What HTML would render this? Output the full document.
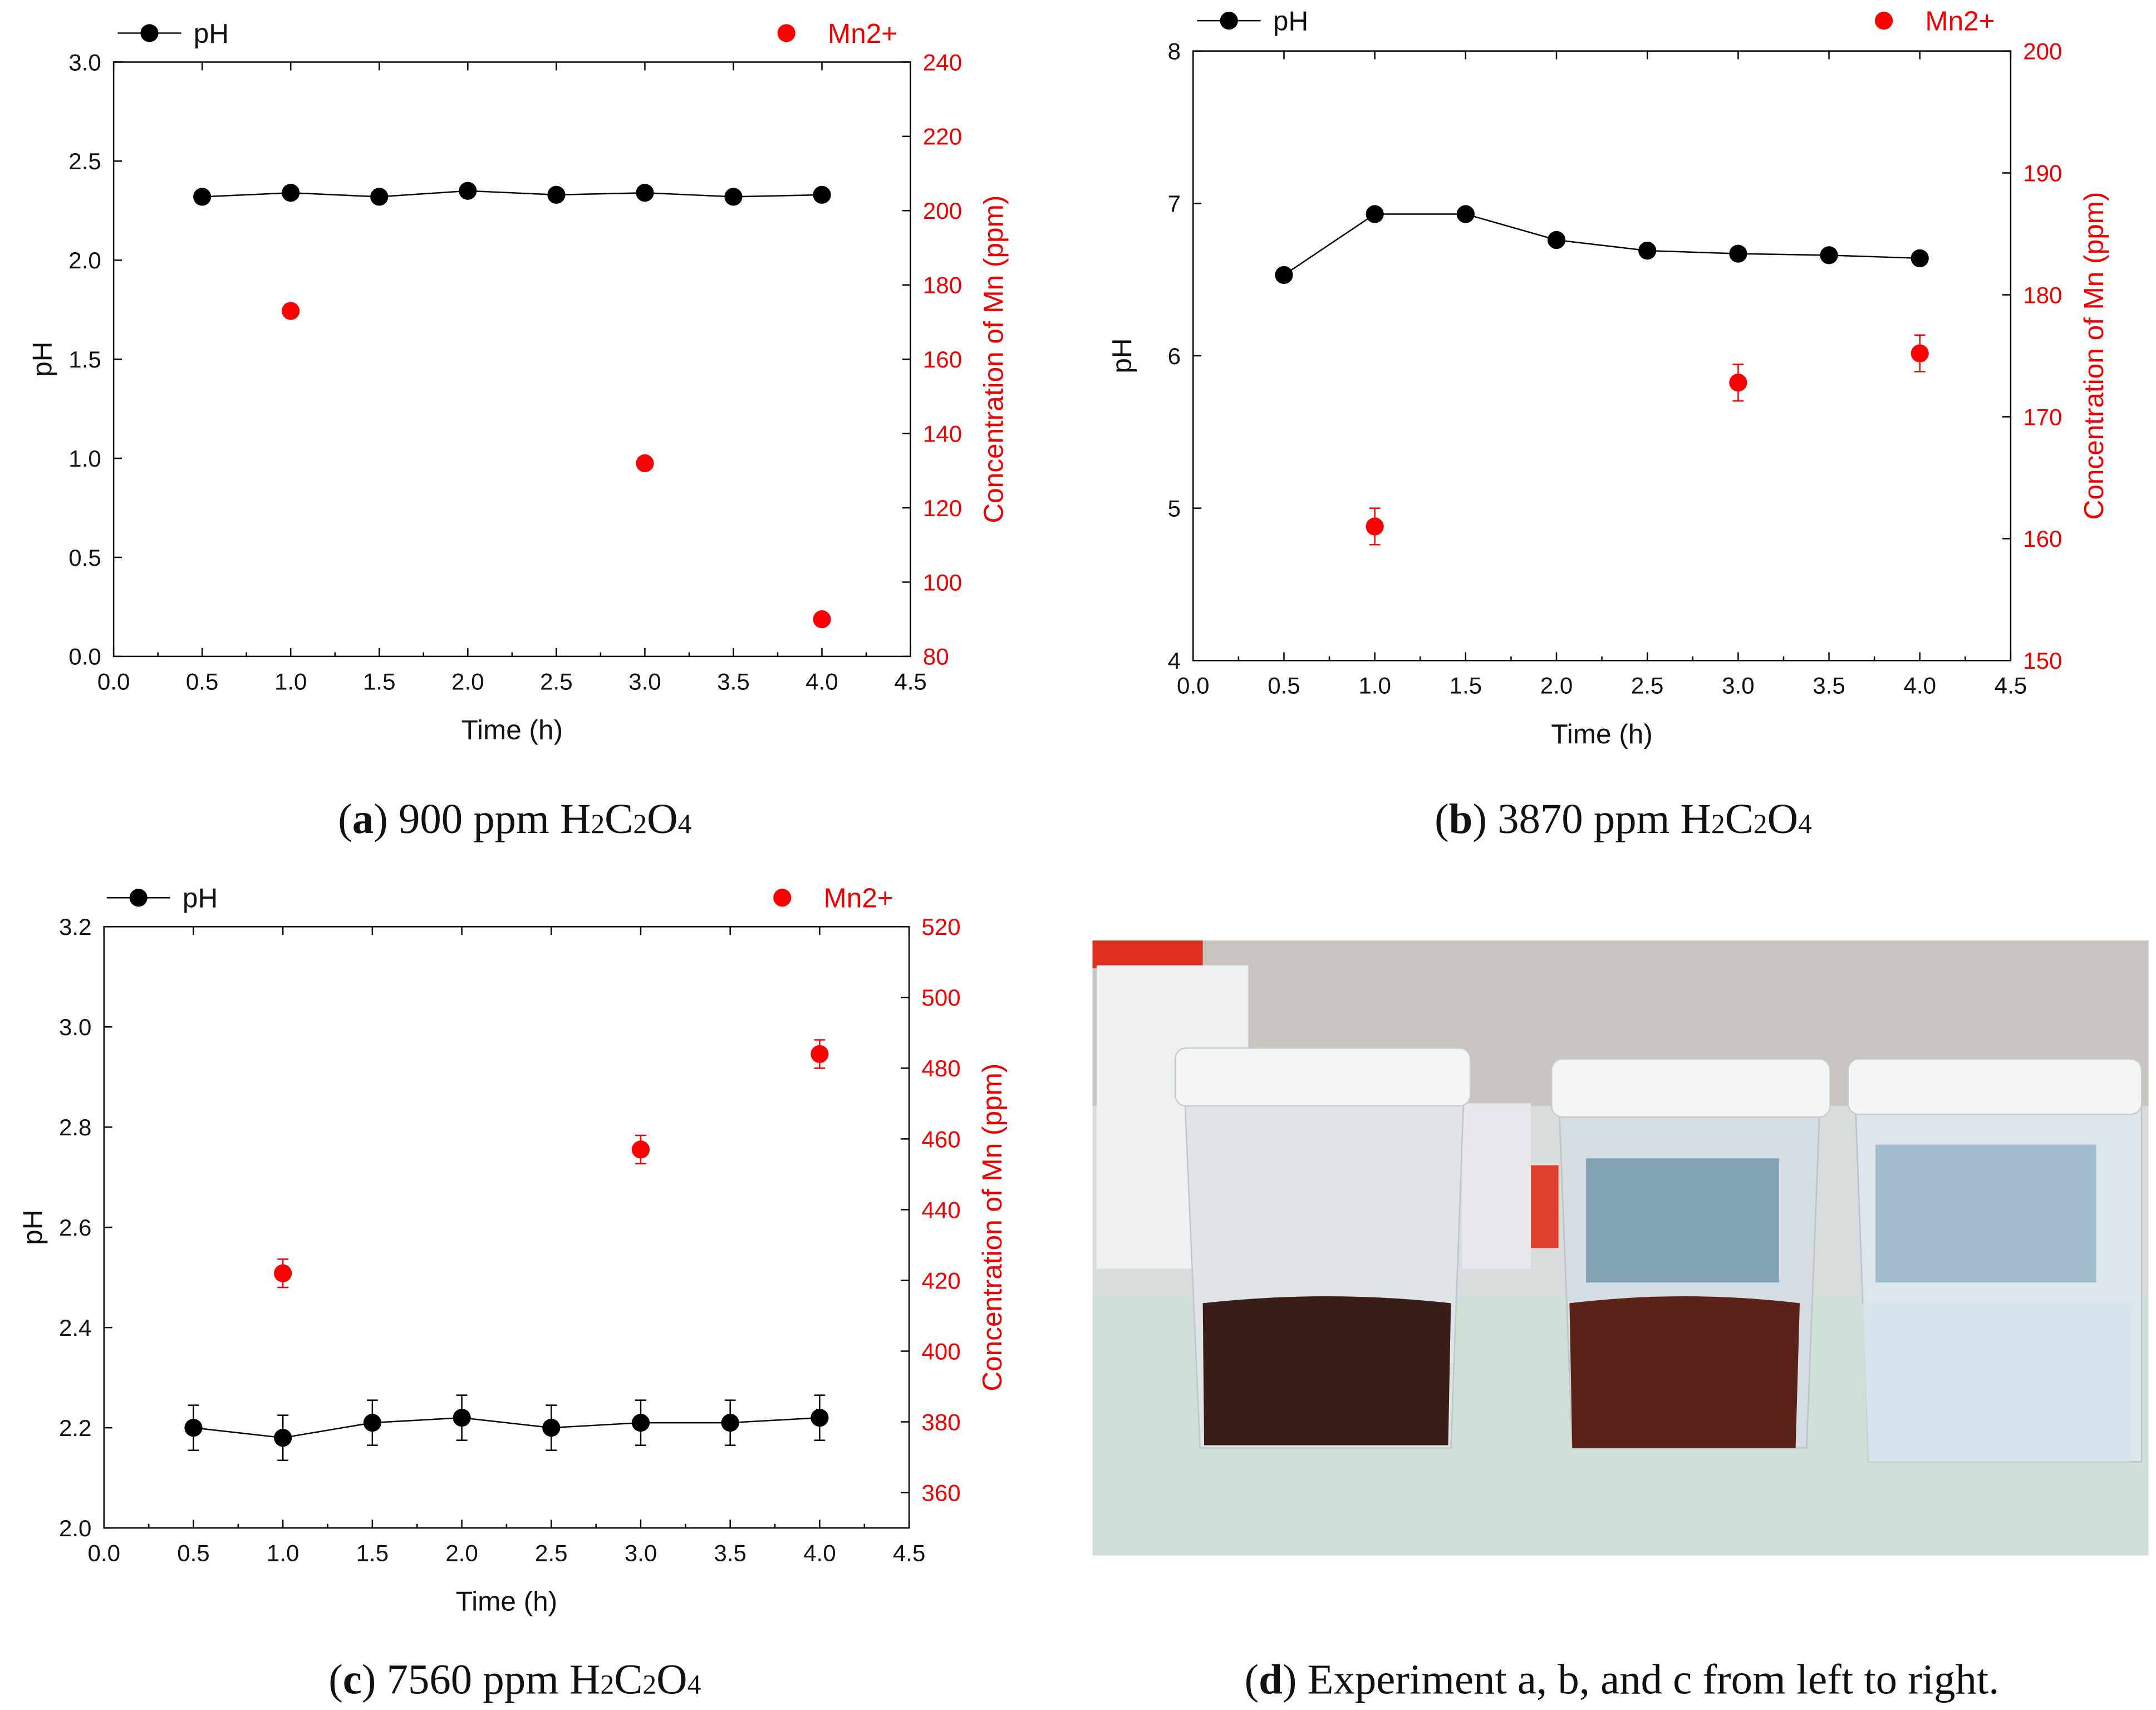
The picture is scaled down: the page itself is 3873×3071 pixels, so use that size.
<!DOCTYPE html>
<html><head><meta charset="utf-8"><style>
html,body{margin:0;padding:0;background:#fff}
svg{display:block}
</style></head><body>
<svg id="fig" width="3873" height="3071" viewBox="0 0 1563 1240" xmlns="http://www.w3.org/2000/svg" font-family="Liberation Sans, sans-serif">
<rect width="1563" height="1240" fill="#fff"/>
<g id="photo">
  <rect x="792" y="682" width="766" height="446" fill="#d9dcdc"/>
  <rect x="792" y="682" width="766" height="120" fill="#c9c4c0"/>
  <rect x="792" y="940" width="766" height="188" fill="#cfe0d8"/>
  <rect x="792" y="682" width="80" height="20" fill="#e03020"/>
  <rect x="795" y="700" width="110" height="220" fill="#eef0f2"/>
  <rect x="1060" y="800" width="50" height="120" fill="#e8e8ec"/>
  <rect x="1110" y="845" width="20" height="60" fill="#e04030"/>
  <path d="M858 775 L1062 775 L1052 1050 L870 1050 Z" fill="#dfe4e6" stroke="#bfc6c8"/>
  <rect x="852" y="760" width="214" height="42" rx="8" fill="#f4f6f6" stroke="#c8cccc"/>
  <path d="M872 945 Q962 935 1052 945 L1050 1048 L873 1048 Z" fill="#3a1c18"/>
  <path d="M1130 790 L1320 790 L1310 1050 L1140 1050 Z" fill="#d5dde2" stroke="#bcc3c6"/>
  <rect x="1125" y="768" width="202" height="42" rx="8" fill="#f4f6f6" stroke="#c8cccc"/>
  <rect x="1150" y="840" width="140" height="90" fill="#5c8aa0" opacity="0.7"/>
  <path d="M1138 945 Q1222 935 1305 945 L1302 1050 L1140 1050 Z" fill="#5a2218"/>
  <path d="M1345 790 L1553 790 L1553 1060 L1355 1060 Z" fill="#dde6ea" stroke="#bcc3c6"/>
  <rect x="1340" y="768" width="213" height="40" rx="8" fill="#f4f6f6" stroke="#c8cccc"/>
  <rect x="1360" y="830" width="160" height="100" fill="#7aa0b8" opacity="0.6"/>
  <path d="M1350 945 L1545 945 L1545 1060 L1355 1060 Z" fill="#d6e4ec" opacity="0.8"/>
</g>
<g id="captions" font-family="Liberation Serif, serif" font-size="31" fill="#111">
  <text x="373" y="604" text-anchor="middle">(<tspan font-weight="bold">a</tspan>) 900 ppm H<tspan font-size="20">2</tspan>C<tspan font-size="20">2</tspan>O<tspan font-size="20">4</tspan></text>
  <text x="1177" y="604" text-anchor="middle">(<tspan font-weight="bold">b</tspan>) 3870 ppm H<tspan font-size="20">2</tspan>C<tspan font-size="20">2</tspan>O<tspan font-size="20">4</tspan></text>
  <text x="373" y="1228" text-anchor="middle">(<tspan font-weight="bold">c</tspan>) 7560 ppm H<tspan font-size="20">2</tspan>C<tspan font-size="20">2</tspan>O<tspan font-size="20">4</tspan></text>
  <text x="1176" y="1228" text-anchor="middle">(<tspan font-weight="bold">d</tspan>) Experiment a, b, and c from left to right.</text>
</g>
</svg>
<script>
const times = [0.5,1.0,1.5,2.0,2.5,3.0,3.5,4.0];
const phA = [2.32,2.34,2.32,2.35,2.33,2.34,2.32,2.33];
const mnTimesA = [1,3,4];
const mnA = [173,132,90];
const phB = [6.53,6.93,6.93,6.76,6.69,6.67,6.66,6.64];
const mnTimesB = [1,3,4];
const mnB = [161,172.8,175.2];
const mnErrB = [1.5,1.5,1.5];
const phC = [2.20,2.18,2.21,2.22,2.20,2.21,2.21,2.22];
const phErrC = [0.045,0.045,0.045,0.045,0.045,0.045,0.045,0.045];
const mnTimesC = [1,3,4];
const mnC = [422,457,484];
const mnErrC = [4,4,4];
const xTicks = [0,0.5,1,1.5,2,2.5,3,3.5,4,4.5];
const phTicksA = [0,0.5,1,1.5,2,2.5,3];
const mnTicksA = [80,100,120,140,160,180,200,220,240];
const phTicksB = [4,5,6,7,8];
const mnTicksB = [150,160,170,180,190,200];
const phTicksC = [2.0,2.2,2.4,2.6,2.8,3.0,3.2];
const mnTicksC = [360,380,400,420,440,460,480,500,520];

const NS="http://www.w3.org/2000/svg";
const svg=document.getElementById('fig');
function mk(tag,attrs,parent){const e=document.createElementNS(NS,tag);for(const k in attrs)e.setAttribute(k,attrs[k]);(parent||svg).appendChild(e);return e;}
function txt(s,attrs,parent){const e=mk('text',attrs,parent);e.textContent=s;return e;}

function chart(o){
  const g=mk('g',{});
  
  
  const X=v=>o.x0+(v-0)/(4.5)*(o.x1-o.x0);
  const Y=v=>o.y1-(v-o.pmin)/(o.pmax-o.pmin)*(o.y1-o.y0);
  const R=v=>o.y1-(v-o.rmin)/(o.rmax-o.rmin)*(o.y1-o.y0);
  const box=mk('rect',{x:o.x0,y:o.y0,width:o.x1-o.x0,height:o.y1-o.y0,fill:'none',stroke:'#000','stroke-width':1},g);
  
  
  xTicks.forEach((t,i)=>{
    mk('line',{x1:X(t),x2:X(t),y1:o.y1,y2:o.y1-6,stroke:'#000'},g);
    mk('line',{x1:X(t),x2:X(t),y1:o.y0,y2:o.y0+6,stroke:'#000'},g);
    if(i<xTicks.length-1){mk('line',{x1:X(t+0.25),x2:X(t+0.25),y1:o.y1,y2:o.y1-3,stroke:'#000'},g);}
    const l=txt(t.toFixed(1),{x:X(t),y:o.y1+24,'text-anchor':'middle','font-size':17,fill:'#111'},g);
    
    
  });
  o.pt.forEach(t=>{
    mk('line',{x1:o.x0,x2:o.x0+6,y1:Y(t),y2:Y(t),stroke:'#000'},g);
    const l=txt(t.toFixed(o.pdec),{x:o.x0-9,y:Y(t)+6,'text-anchor':'end','font-size':17,fill:'#111'},g);
    
    
  });
  o.rt.forEach(t=>{
    mk('line',{x1:o.x1,x2:o.x1-6,y1:R(t),y2:R(t),stroke:'#000'},g);
    const l=txt(String(t),{x:o.x1+9,y:R(t)+6,'font-size':17,fill:'#e00'},g);
    
    
  });
  const xt=txt('Time (h)',{x:(o.x0+o.x1)/2,y:o.y1+60,'text-anchor':'middle','font-size':20,fill:'#111'},g);
  
  
  const yt=txt('pH',{x:0,y:0,transform:`translate(${o.x0-45},${(o.y0+o.y1)/2}) rotate(-90)`,'text-anchor':'middle','font-size':20,fill:'#111'},g);
  
  
  const rt=txt('Concentration of Mn (ppm)',{x:0,y:0,transform:`translate(${o.x1+67},${(o.y0+o.y1)/2}) rotate(-90)`,'text-anchor':'middle','font-size':20,fill:'#e00'},g);
  
  
  const pts=times.map((t,i)=>X(t)+','+Y(o.ph[i])).join(' ');
  const pl=mk('polyline',{points:pts,fill:'none',stroke:'#000','stroke-width':1},g);
  
  
  times.forEach((t,i)=>{
    const e=o.phErr?o.phErr[i]:0.02*(o.pmax-o.pmin)/3;
    mk('line',{x1:X(t),x2:X(t),y1:Y(o.ph[i]-e),y2:Y(o.ph[i]+e),stroke:'#000'},g);
    mk('line',{x1:X(t)-4,x2:X(t)+4,y1:Y(o.ph[i]-e),y2:Y(o.ph[i]-e),stroke:'#000'},g);
    mk('line',{x1:X(t)-4,x2:X(t)+4,y1:Y(o.ph[i]+e),y2:Y(o.ph[i]+e),stroke:'#000'},g);
    const c=mk('circle',{cx:X(t),cy:Y(o.ph[i]),r:6.5,fill:'#000'},g);
    
    
  });
  o.mt.forEach((t,i)=>{
    if(o.mErr){const e=o.mErr[i];
      mk('line',{x1:X(t),x2:X(t),y1:R(o.mn[i]-e),y2:R(o.mn[i]+e),stroke:'#e00'},g);
      mk('line',{x1:X(t)-4,x2:X(t)+4,y1:R(o.mn[i]-e),y2:R(o.mn[i]-e),stroke:'#e00'},g);
      mk('line',{x1:X(t)-4,x2:X(t)+4,y1:R(o.mn[i]+e),y2:R(o.mn[i]+e),stroke:'#e00'},g);}
    const c=mk('circle',{cx:X(t),cy:R(o.mn[i]),r:6.5,fill:'#f00'},g);
    
    
  });
  const lg=mk('g',{},g);
  
  
  mk('line',{x1:o.lx,x2:o.lx+46,y1:o.ly,y2:o.ly,stroke:'#000'},lg);
  mk('circle',{cx:o.lx+23,cy:o.ly,r:6.5,fill:'#000'},lg);
  txt('pH',{x:o.lx+55,y:o.ly+7,'font-size':20,fill:'#111'},lg);
  mk('circle',{cx:o.mx,cy:o.ly,r:6.5,fill:'#f00'},lg);
  txt('Mn2+',{x:o.mx+30,y:o.ly+7,'font-size':20,fill:'#e00'},lg);
}
chart({name:'chart-a',x0:82,x1:660,y0:45,y1:476,pmin:0,pmax:3,rmin:80,rmax:240,pt:phTicksA,pdec:1,rt:mnTicksA,ph:phA,mt:mnTimesA,mn:mnA,lx:85,ly:24,mx:570});
chart({name:'chart-b',x0:865,x1:1458,y0:37,y1:479,pmin:4,pmax:8,rmin:150,rmax:200,pt:phTicksB,pdec:0,rt:mnTicksB,ph:phB,mt:mnTimesB,mn:mnB,mErr:mnErrB,lx:868,ly:15,mx:1366});
chart({name:'chart-c',x0:75,x1:659,y0:672,y1:1108,pmin:2.0,pmax:3.2,rmin:350,rmax:520,pt:phTicksC,pdec:1,rt:mnTicksC,ph:phC,phErr:phErrC,mt:mnTimesC,mn:mnC,mErr:mnErrC,lx:77,ly:651,mx:567});
</script>
</body></html>
